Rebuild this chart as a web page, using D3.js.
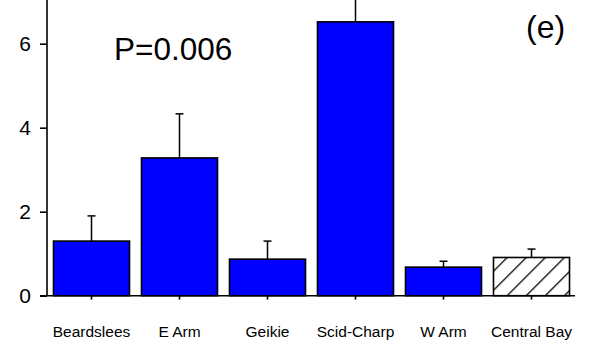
<!DOCTYPE html>
<html>
<head>
<meta charset="utf-8">
<script src="https://cdn.jsdelivr.net/npm/d3@7"></script>
<style>
  html, body { margin: 0; padding: 0; background: #fff; }
  svg { display: block; font-family: Arial, "Liberation Sans", sans-serif; }
</style>
</head>
<body>
<svg id="chart" width="597" height="341"></svg>
<script>
// Site means with standard errors
const sites = ["Beardslees", "E Arm", "Geikie", "Scid-Charp", "W Arm", "Central Bay"];
const means = [1.30, 3.28, 0.87, 6.52, 0.68, 0.91];
const errors = [0.60, 1.05, 0.43, 1.20, 0.14, 0.20];
const hatched = [false, false, false, false, false, true];
const yTicks = [0, 2, 4, 6];
const pLabel = "P=0.006";
const panelLabel = "(e)";

const svg = d3.select("#chart");

const y = d3.scaleLinear().domain([0, 7]).range([295.7, 1.7]);
const x = d3.scaleBand().domain(sites).range([47.5, 575.5])
  .paddingInner(0.136).paddingOuter(0.068);

// diagonal hatch for the reference site
const defs = svg.append("defs");
const pat = defs.append("pattern")
  .attr("id", "hatch").attr("patternUnits", "userSpaceOnUse")
  .attr("width", 13.5).attr("height", 13.5)
  .attr("patternTransform", "rotate(45)");
pat.append("rect").attr("width", 13.5).attr("height", 13.5).attr("fill", "#fff");
pat.append("line").attr("x1", 0).attr("y1", 0).attr("x2", 0).attr("y2", 13.5)
  .attr("stroke", "#000").attr("stroke-width", 2.6);

// error bars (upper only)
const eb = svg.append("g").attr("stroke", "#000").attr("stroke-width", 1.5);
sites.forEach((s, i) => {
  const cx = x(s) + x.bandwidth() / 2;
  eb.append("line").attr("x1", cx).attr("x2", cx)
    .attr("y1", y(means[i])).attr("y2", y(means[i] + errors[i]));
  eb.append("line").attr("x1", cx - 4).attr("x2", cx + 4)
    .attr("y1", y(means[i] + errors[i])).attr("y2", y(means[i] + errors[i]));
});

// bars
svg.append("g").selectAll("rect").data(sites).join("rect")
  .attr("x", d => x(d))
  .attr("width", x.bandwidth())
  .attr("y", (d, i) => y(means[i]))
  .attr("height", (d, i) => y(0) - y(means[i]))
  .attr("fill", (d, i) => hatched[i] ? "url(#hatch)" : "#0000ff")
  .attr("stroke", "#000").attr("stroke-width", 1.6);

// y axis
const yAxis = svg.append("g").attr("transform", "translate(47,0)")
  .call(d3.axisLeft(y).tickValues(yTicks).tickFormat(d3.format("d")).tickSize(7).tickPadding(9));
yAxis.select(".domain").attr("d", `M0,${y(0)}V0`).attr("stroke-width", 1.6);
yAxis.selectAll(".tick line").attr("stroke-width", 1.6);
yAxis.selectAll(".tick text").attr("font-size", 21).attr("fill", "#000")
  .attr("font-family", "Arial, 'Liberation Sans', sans-serif");

// x axis
const xAxis = svg.append("g").attr("transform", `translate(0,${y(0)})`)
  .call(d3.axisBottom(x).tickSize(4).tickPadding(26).tickSizeOuter(0));
xAxis.select(".domain").attr("d", "M40,0H575").attr("stroke-width", 1.6);
xAxis.selectAll(".tick line").attr("stroke-width", 1.6);
xAxis.selectAll(".tick text").attr("font-size", 15.5).attr("fill", "#000")
  .attr("font-family", "Arial, 'Liberation Sans', sans-serif");

// annotations
svg.append("text").attr("x", 114).attr("y", 60).attr("font-size", 31.5)
  .text(pLabel);
svg.append("text").attr("x", 526).attr("y", 38).attr("font-size", 32)
  .text(panelLabel);
</script>
</body>
</html>
